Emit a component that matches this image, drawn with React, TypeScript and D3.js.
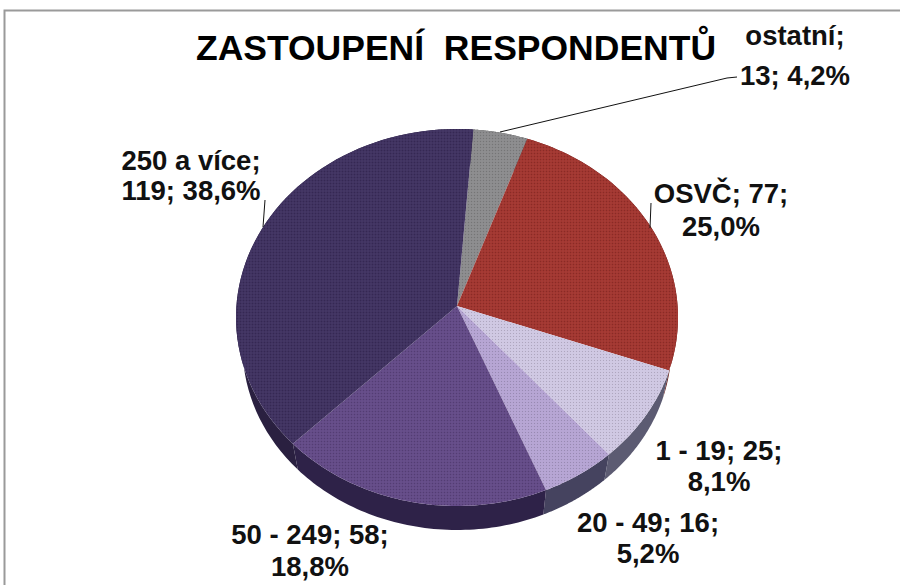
import React from "react";
import * as d3 from "d3";

const categories = ["ostatní", "OSVČ", "1 - 19", "20 - 49", "50 - 249", "250 a více"];
const counts = [13, 77, 25, 16, 58, 119];
const percents = ["4,2%", "25,0%", "8,1%", "5,2%", "18,8%", "38,6%"];
const topColors = ["#8b8b8d", "#a1352f", "#cfc7e2", "#b5a4d3", "#634a87", "#3f3160"];
const sideColors = ["#555", "#6b2320", "#5c5b72", "#45435f", "#2e2248", "#2a2040"];
const title = "ZASTOUPENÍ  RESPONDENTŮ";

const W = 900, H = 585;
const CX = 457, CY = 306, RX = 220.6, RY = 187.8, P = 0.061, DEPTH = 30, BOTTOM = 0.97;
const START = (4.5 * Math.PI) / 180;

const project = (a: number, z = 0): [number, number] => {
  const s = z ? BOTTOM : 1;
  const u = Math.sin(a), v = Math.cos(a), d = 1 + P * v;
  return [CX + (s * RX * u) / d, CY + z * DEPTH - (s * RY * v) / d];
};
const line = d3.line<[number, number]>();
const arcs = d3.pie<number>().sort(null).startAngle(START).endAngle(START + 2 * Math.PI)(counts);
const sweep = (a0: number, a1: number, z = 0) =>
  d3.range(0, 61).map((i) => project(a0 + ((a1 - a0) * i) / 60, z));

const topPath = (a0: number, a1: number) => line([[CX, CY], ...sweep(a0, a1)]) + "Z";
const sidePath = (a0: number, a1: number) =>
  line([...sweep(a0, a1), ...sweep(a0, a1, 1).reverse()]) + "Z";

const labelLines = [
  [`${categories[0]};`, `${counts[0]}; ${percents[0]}`],
  [`${categories[1]}; ${counts[1]};`, percents[1]],
  [`${categories[2]}; ${counts[2]};`, percents[2]],
  [`${categories[3]}; ${counts[3]};`, percents[3]],
  [`${categories[4]}; ${counts[4]};`, percents[4]],
  [`${categories[5]};`, `${counts[5]}; ${percents[5]}`],
];
const labelPos = [
  [795, 45, 85], [721, 203, 236], [719, 460, 491], [648, 532, 563], [310, 544, 576], [191, 170, 200],
];
const leaders = [
  "M500,132L727,78L737,77",
  "M650,228L651,203",
  "M263,227L265,200",
];
const font = "'Liberation Sans', Arial, sans-serif";

export default function App() {
  return (
    <svg width={W} height={H} viewBox={`0 0 ${W} ${H}`} style={{ position: "absolute", left: 0, top: 0, background: "#fff" }}>
      <defs>
        <pattern id="dither" width={3} height={3} patternUnits="userSpaceOnUse">
          <rect x={0} y={0} width={1} height={1} fill="#000" opacity={0.16} />
          <rect x={1.5} y={1.5} width={1} height={1} fill="#fff" opacity={0.1} />
        </pattern>
      </defs>
      <path d={`M4.5,${H}V10.5H${W}`} fill="none" stroke="#9a9a9a" strokeWidth={2} />
      <g>
        {arcs.map((d, i) => (
          <path key={i} d={sidePath(d.startAngle, d.endAngle)} fill={sideColors[i]} />
        ))}
        {arcs.map((d, i) => (
          <path key={i} d={topPath(d.startAngle, d.endAngle)} fill={topColors[i]} />
        ))}
        {arcs.map((d, i) => (
          <path key={i} d={topPath(d.startAngle, d.endAngle)} fill="url(#dither)" />
        ))}
      </g>
      {leaders.map((d, i) => (
        <path key={i} d={d} fill="none" stroke="#111" strokeWidth={1} />
      ))}
      <text x={456} y={60} textAnchor="middle" xmlSpace="preserve" fontFamily={font} fontWeight="bold" fontSize={35.5} fill="#000" style={{ whiteSpace: "pre" }}>
        {title}
      </text>
      {labelLines.map((ls, i) => (
        <text key={i} textAnchor="middle" fontFamily={font} fontWeight="bold" fontSize={27.5} fill="#111">
          <tspan x={labelPos[i][0]} y={labelPos[i][1]}>{ls[0]}</tspan>
          <tspan x={labelPos[i][0]} y={labelPos[i][2]}>{ls[1]}</tspan>
        </text>
      ))}
    </svg>
  );
}
